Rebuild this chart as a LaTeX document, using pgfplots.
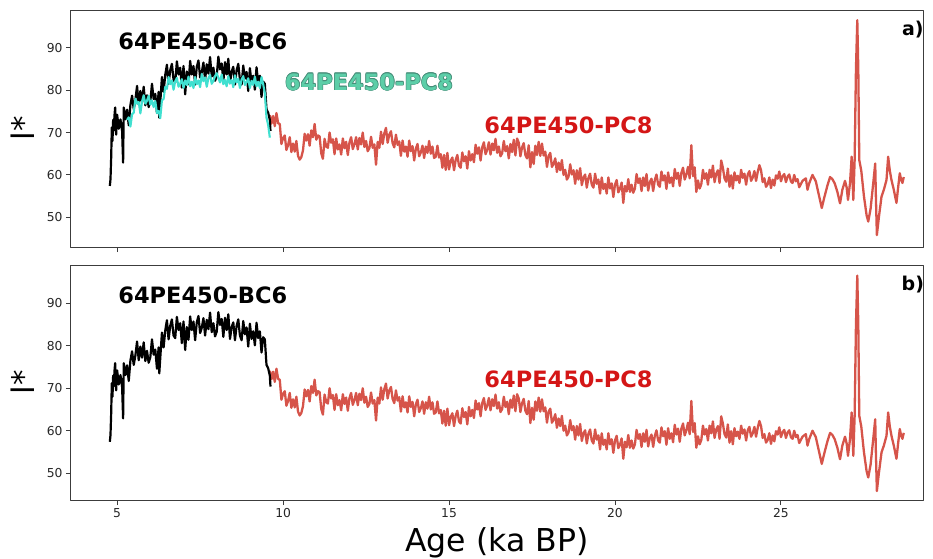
\documentclass[border=0pt]{standalone}
\usepackage{fontspec}
\setmainfont{DejaVu Sans}
\usepackage{pgfplots}
\usepackage{pgfplotstable}
\pgfplotsset{compat=1.18}

\definecolor{pcred}{RGB}{214,84,74}
\definecolor{pccyan}{RGB}{64,224,208}
\definecolor{labred}{RGB}{212,22,22}
\definecolor{labcyan}{RGB}{92,206,168}
\definecolor{labcyanedge}{RGB}{70,140,120}
\definecolor{framegray}{RGB}{60,60,60}

% 64PE450-PC8 (red)
\pgfplotstableread[row sep=\\]{
x y\\
9.60 74.1\\ 9.65 72.1\\ 9.70 73.9\\ 9.75 71.5\\ 9.80 74.6\\ 9.85 72.2\\ 9.90 72.0\\ 9.95 67.3\\ 10.00 68.7\\ 10.05 69.3\\
10.10 65.9\\ 10.15 67.0\\ 10.20 68.9\\ 10.25 65.4\\ 10.30 67.4\\ 10.35 65.5\\ 10.40 68.0\\ 10.45 64.5\\ 10.50 63.6\\ 10.55 64.2\\
10.60 65.8\\ 10.65 69.7\\ 10.70 68.1\\ 10.75 69.6\\ 10.80 66.9\\ 10.85 70.5\\ 10.90 68.9\\ 10.95 72.0\\ 11.00 68.3\\ 11.05 69.3\\
11.10 69.1\\ 11.15 65.1\\ 11.20 63.8\\ 11.25 68.5\\ 11.30 66.7\\ 11.35 66.4\\ 11.40 70.0\\ 11.45 67.6\\ 11.50 68.4\\ 11.55 64.9\\
11.60 68.6\\ 11.65 66.0\\ 11.70 67.2\\ 11.75 64.8\\ 11.80 68.6\\ 11.85 66.3\\ 11.90 67.8\\ 11.95 64.7\\ 12.00 67.7\\ 12.05 68.9\\
12.10 66.1\\ 12.15 67.2\\ 12.20 68.9\\ 12.25 66.0\\ 12.30 68.7\\ 12.35 67.2\\ 12.40 70.0\\ 12.45 66.6\\ 12.50 68.0\\ 12.55 65.6\\
12.60 66.3\\ 12.65 69.0\\ 12.70 66.4\\ 12.75 67.2\\ 12.80 62.4\\ 12.85 67.8\\ 12.90 66.4\\ 12.95 70.2\\ 13.00 67.3\\ 13.05 69.8\\
13.10 71.1\\ 13.15 67.6\\ 13.20 69.5\\ 13.25 70.3\\ 13.30 67.5\\ 13.35 66.5\\ 13.40 69.5\\ 13.45 67.1\\ 13.50 67.9\\ 13.55 64.5\\
13.60 68.1\\ 13.65 65.5\\ 13.70 66.7\\ 13.75 64.3\\ 13.80 68.1\\ 13.85 65.6\\ 13.90 66.8\\ 13.95 63.4\\ 14.00 66.2\\ 14.05 67.3\\
14.10 64.4\\ 14.15 65.3\\ 14.20 66.9\\ 14.25 64.0\\ 14.30 66.7\\ 14.35 65.2\\ 14.40 68.0\\ 14.45 65.0\\ 14.50 66.7\\ 14.55 64.0\\
14.60 64.3\\ 14.65 66.9\\ 14.70 64.1\\ 14.75 64.9\\ 14.80 61.7\\ 14.85 64.7\\ 14.90 61.2\\ 14.95 65.2\\ 15.00 61.3\\ 15.05 63.3\\
15.10 64.1\\ 15.15 61.1\\ 15.20 63.5\\ 15.25 64.7\\ 15.30 62.2\\ 15.35 61.7\\ 15.40 65.3\\ 15.45 63.2\\ 15.50 64.4\\ 15.55 61.5\\
15.60 65.6\\ 15.65 63.4\\ 15.70 64.9\\ 15.75 63.0\\ 15.80 67.1\\ 15.85 65.0\\ 15.90 66.5\\ 15.95 63.4\\ 16.00 66.5\\ 16.05 67.7\\
16.10 64.9\\ 16.15 65.9\\ 16.20 67.7\\ 16.25 64.8\\ 16.30 67.4\\ 16.35 65.8\\ 16.40 68.5\\ 16.45 65.2\\ 16.50 66.7\\ 16.55 64.4\\
16.60 65.1\\ 16.65 68.0\\ 16.70 65.6\\ 16.75 66.8\\ 16.80 63.9\\ 16.85 67.3\\ 16.90 65.4\\ 16.95 68.3\\ 17.00 64.6\\ 17.05 68.6\\
17.10 67.6\\ 17.15 64.4\\ 17.20 66.5\\ 17.25 67.5\\ 17.30 64.7\\ 17.35 63.9\\ 17.40 67.0\\ 17.45 61.8\\ 17.50 65.4\\ 17.55 62.6\\
17.60 66.9\\ 17.65 64.7\\ 17.70 67.8\\ 17.75 64.5\\ 17.80 67.4\\ 17.85 64.6\\ 17.90 65.5\\ 17.95 61.9\\ 18.00 64.5\\ 18.05 65.2\\
18.10 61.9\\ 18.15 62.6\\ 18.20 63.9\\ 18.25 60.7\\ 18.30 62.9\\ 18.35 61.1\\ 18.40 63.5\\ 18.45 60.0\\ 18.50 61.2\\ 18.55 58.9\\
18.60 59.6\\ 18.65 62.5\\ 18.70 60.1\\ 18.75 61.1\\ 18.80 57.9\\ 18.85 61.1\\ 18.90 58.9\\ 18.95 61.6\\ 19.00 57.6\\ 19.05 59.4\\
19.10 60.1\\ 19.15 57.0\\ 19.20 59.3\\ 19.25 60.3\\ 19.30 57.7\\ 19.35 57.0\\ 19.40 60.3\\ 19.45 57.9\\ 19.50 58.9\\ 19.55 55.6\\
19.60 59.4\\ 19.65 56.7\\ 19.70 57.9\\ 19.75 55.6\\ 19.80 59.4\\ 19.85 56.8\\ 19.90 58.0\\ 19.95 54.8\\ 20.00 57.7\\ 20.05 58.8\\
20.10 55.9\\ 20.15 56.7\\ 20.20 58.2\\ 20.25 53.4\\ 20.30 57.4\\ 20.35 56.1\\ 20.40 59.0\\ 20.45 56.0\\ 20.50 57.7\\ 20.55 55.8\\
20.60 56.8\\ 20.65 60.2\\ 20.70 58.1\\ 20.75 59.2\\ 20.80 56.2\\ 20.85 59.4\\ 20.90 57.4\\ 20.95 60.2\\ 21.00 56.3\\ 21.05 58.3\\
21.10 59.1\\ 21.15 56.2\\ 21.20 58.8\\ 21.25 60.1\\ 21.30 57.7\\ 21.35 57.2\\ 21.40 60.8\\ 21.45 58.7\\ 21.50 59.9\\ 21.55 56.7\\
21.60 60.6\\ 21.65 58.1\\ 21.70 59.4\\ 21.75 57.3\\ 21.80 61.4\\ 21.85 59.1\\ 21.90 60.5\\ 21.95 57.4\\ 22.00 60.5\\ 22.05 61.7\\
22.10 58.9\\ 22.15 60.1\\ 22.20 61.9\\ 22.25 59.2\\ 22.30 67.0\\ 22.35 59.7\\ 22.40 61.8\\ 22.45 56.0\\ 22.50 58.7\\ 22.55 56.8\\
22.60 57.8\\ 22.65 61.2\\ 22.70 59.1\\ 22.75 60.4\\ 22.80 57.7\\ 22.85 61.2\\ 22.90 59.4\\ 22.95 62.2\\ 23.00 58.3\\ 23.05 60.3\\
23.10 61.1\\ 23.15 58.1\\ 23.20 63.4\\ 23.25 61.7\\ 23.30 59.2\\ 23.35 58.4\\ 23.40 61.5\\ 23.45 57.2\\ 23.50 59.9\\ 23.55 56.8\\
23.60 60.6\\ 23.65 58.7\\ 23.70 59.8\\ 23.75 58.1\\ 23.80 61.2\\ 23.85 59.3\\ 23.90 60.3\\ 23.95 57.7\\ 24.00 60.1\\ 24.05 60.9\\
24.10 58.6\\ 24.15 59.4\\ 24.20 60.9\\ 24.25 58.6\\ 24.30 60.7\\ 24.35 62.3\\ 24.40 61.1\\ 24.45 58.3\\ 24.50 59.2\\ 24.55 57.2\\
24.60 57.8\\ 24.65 59.4\\ 24.70 56.9\\ 24.75 58.9\\ 24.80 57.5\\ 24.85 59.9\\ 24.90 59.1\\ 24.95 60.8\\ 25.00 58.5\\ 25.05 59.7\\
25.10 60.2\\ 25.15 58.3\\ 25.20 59.6\\ 25.25 60.1\\ 25.30 58.5\\ 25.35 58.1\\ 25.40 60.0\\ 25.45 58.5\\ 25.50 59.0\\ 25.55 57.1\\
25.65 58.6\\ 25.75 59.2\\ 25.80 56.5\\ 25.85 58.0\\ 25.95 60.0\\ 26.05 58.5\\ 26.15 55.0\\ 26.23 52.2\\ 26.30 54.5\\ 26.40 57.5\\
26.48 59.5\\ 26.55 59.0\\ 26.62 58.0\\ 26.70 56.0\\ 26.78 53.3\\ 26.85 56.5\\ 26.93 58.6\\ 26.98 57.0\\ 27.02 54.1\\ 27.08 58.0\\
27.13 64.3\\ 27.18 54.1\\ 27.22 63.5\\ 27.26 85.0\\ 27.30 96.5\\ 27.33 85.0\\ 27.36 63.5\\ 27.42 61.0\\ 27.50 55.0\\ 27.58 50.5\\
27.63 49.0\\ 27.70 52.0\\ 27.78 58.0\\ 27.84 62.7\\ 27.86 55.0\\ 27.89 45.8\\ 27.95 50.0\\ 28.03 54.9\\ 28.10 56.5\\ 28.18 58.8\\
28.23 64.3\\ 28.28 61.0\\ 28.33 58.8\\ 28.40 56.5\\ 28.48 53.4\\ 28.53 57.0\\ 28.58 60.4\\ 28.62 58.9\\ 28.66 58.1\\ 28.70 59.5\\
}\pcred

% 64PE450-BC6 (black)
\pgfplotstableread[row sep=\\]{
x y\\
4.78 57.4\\ 4.80 59.0\\ 4.82 64.0\\ 4.84 71.2\\ 4.86 68.0\\ 4.88 73.0\\ 4.90 70.5\\ 4.92 74.0\\ 4.94 75.9\\ 4.97 69.5\\
5.00 74.2\\ 5.05 70.9\\ 5.10 73.1\\ 5.15 70.3\\ 5.18 62.9\\ 5.20 75.9\\ 5.25 73.1\\ 5.30 75.4\\ 5.35 71.7\\ 5.40 76.5\\
5.45 78.7\\ 5.50 75.5\\ 5.55 77.7\\ 5.60 81.0\\ 5.65 76.6\\ 5.70 79.8\\ 5.75 77.2\\ 5.80 80.8\\ 5.85 76.4\\ 5.90 78.8\\
5.95 76.0\\ 6.00 77.3\\ 6.05 81.5\\ 6.10 77.9\\ 6.15 79.1\\ 6.20 74.6\\ 6.25 79.6\\ 6.27 73.5\\ 6.30 77.2\\ 6.35 83.1\\
6.40 79.6\\ 6.45 83.6\\ 6.50 86.0\\ 6.55 81.5\\ 6.60 84.7\\ 6.65 86.2\\ 6.70 82.4\\ 6.75 81.8\\ 6.80 86.8\\ 6.85 83.7\\
6.90 85.3\\ 6.95 80.6\\ 7.00 85.7\\ 7.05 79.0\\ 7.10 84.4\\ 7.15 81.4\\ 7.20 86.9\\ 7.25 83.7\\ 7.30 85.7\\ 7.35 81.3\\
7.40 85.5\\ 7.45 87.0\\ 7.50 83.0\\ 7.55 84.2\\ 7.60 86.5\\ 7.65 82.4\\ 7.70 86.1\\ 7.75 83.9\\ 7.80 87.8\\ 7.85 83.2\\
7.90 85.3\\ 7.95 82.2\\ 8.00 83.3\\ 8.05 87.9\\ 8.10 84.9\\ 8.15 86.3\\ 8.20 82.1\\ 8.25 86.6\\ 8.30 83.7\\ 8.35 87.4\\
8.40 81.6\\ 8.45 84.4\\ 8.50 85.5\\ 8.55 81.3\\ 8.60 84.7\\ 8.65 86.2\\ 8.70 82.4\\ 8.75 81.3\\ 8.80 85.8\\ 8.85 82.7\\
8.90 84.3\\ 8.95 79.8\\ 9.00 85.2\\ 9.05 81.6\\ 9.10 83.4\\ 9.15 80.1\\ 9.20 85.4\\ 9.25 81.8\\ 9.30 83.4\\ 9.35 78.4\\
9.40 82.0\\ 9.45 81.5\\ 9.50 75.5\\ 9.55 74.7\\ 9.60 73.0\\ 9.62 70.4\\
}\bcblack

% 64PE450-PC8 (turquoise)
\pgfplotstableread[row sep=\\]{
x y\\
5.30 73.0\\ 5.35 73.6\\ 5.40 71.4\\ 5.45 74.3\\ 5.50 74.7\\ 5.55 78.0\\ 5.60 76.8\\ 5.65 77.2\\ 5.70 74.5\\ 5.75 77.3\\
5.80 78.8\\ 5.85 76.8\\ 5.90 77.5\\ 5.95 78.7\\ 6.00 76.6\\ 6.05 77.6\\ 6.10 76.0\\ 6.15 77.4\\ 6.20 74.6\\ 6.25 75.1\\
6.30 73.4\\ 6.35 77.6\\ 6.40 77.9\\ 6.45 80.8\\ 6.50 80.3\\ 6.55 83.1\\ 6.60 81.4\\ 6.65 82.3\\ 6.70 80.1\\ 6.75 82.1\\
6.80 82.9\\ 6.85 80.8\\ 6.90 81.5\\ 6.95 82.6\\ 7.00 80.5\\ 7.05 82.3\\ 7.10 81.2\\ 7.15 83.2\\ 7.20 80.9\\ 7.25 82.0\\
7.30 80.5\\ 7.35 83.1\\ 7.40 81.4\\ 7.45 82.3\\ 7.50 80.7\\ 7.55 83.8\\ 7.60 82.1\\ 7.65 83.0\\ 7.70 80.8\\ 7.75 82.8\\
7.80 83.6\\ 7.85 81.5\\ 7.90 82.2\\ 7.95 83.3\\ 8.00 84.0\\ 8.05 82.9\\ 8.10 81.8\\ 8.15 83.7\\ 8.20 81.4\\ 8.25 82.4\\
8.30 80.9\\ 8.35 83.3\\ 8.40 81.6\\ 8.45 82.4\\ 8.50 80.7\\ 8.55 83.5\\ 8.60 81.8\\ 8.65 82.7\\ 8.70 80.5\\ 8.75 82.5\\
8.80 83.3\\ 8.85 81.2\\ 8.90 81.9\\ 8.95 82.8\\ 9.00 80.5\\ 9.05 82.2\\ 9.10 81.2\\ 9.15 83.2\\ 9.20 80.9\\ 9.25 82.0\\
9.30 80.5\\ 9.35 83.1\\ 9.40 81.4\\ 9.45 79.3\\ 9.50 73.5\\ 9.55 71.8\\ 9.60 68.8\\
}\pccyantab

\pgfplotsset{panel/.style={
  scale only axis, width=852pt,
  xmin=3.61, xmax=29.28,
  xtick={5,10,15,20,25}, ytick={50,60,70,80,90},
  tick pos=left, tick align=outside, major tick length=5pt,
  axis line style={framegray, line width=1pt},
  every tick/.style={framegray, line width=1pt},
  tick label style={font=\fontsize{12.3}{14}\selectfont, text=black!85},
  /pgf/number format/assume math mode=true,
  ylabel={l*},
  ylabel style={font=\fontsize{31}{36}\selectfont, at={(rel axis cs:0,0.5)},
                anchor=center, yshift=48pt},
  line join=round,
}}
\tikzset{lab/.style={font=\fontsize{22.5}{26}\bfseries, inner sep=0pt},
         edge/.style={lab, text=labcyanedge}}

\begin{document}
\begin{tikzpicture}
\path[use as bounding box] (-71pt,-58pt) rectangle (862pt,500pt);

\begin{axis}[panel, at={(0pt,253pt)}, anchor=south west, height=237pt,
  ymin=43.0, ymax=98.9, xticklabels={}]
\addplot[pcred, line width=2.3pt] table[x=x, y=y] {\pcred};
\addplot[black, line width=2.2pt] table[x=x, y=y] {\bcblack};
\addplot[pccyan, line width=2.1pt] table[x=x, y=y] {\pccyantab};
\node[lab] at (axis cs:7.58,91.6) {64PE450-BC6};
% turquoise label with a thin darker edge
\node[edge, xshift=0.6pt] at (axis cs:12.59,81.9) {64PE450-PC8};
\node[edge, xshift=-0.6pt] at (axis cs:12.59,81.9) {64PE450-PC8};
\node[edge, yshift=0.6pt] at (axis cs:12.59,81.9) {64PE450-PC8};
\node[edge, yshift=-0.6pt] at (axis cs:12.59,81.9) {64PE450-PC8};
\node[edge, xshift=0.45pt, yshift=0.45pt] at (axis cs:12.59,81.9) {64PE450-PC8};
\node[edge, xshift=-0.45pt, yshift=0.45pt] at (axis cs:12.59,81.9) {64PE450-PC8};
\node[edge, xshift=0.45pt, yshift=-0.45pt] at (axis cs:12.59,81.9) {64PE450-PC8};
\node[edge, xshift=-0.45pt, yshift=-0.45pt] at (axis cs:12.59,81.9) {64PE450-PC8};
\node[lab, text=labcyan] at (axis cs:12.59,81.9) {64PE450-PC8};
\node[lab, text=labred] at (axis cs:18.6,71.8) {64PE450-PC8};
\node[font=\fontsize{19}{22}\bfseries, inner sep=0pt] at (rel axis cs:0.988,0.916) {a)};
\end{axis}

\begin{axis}[panel, at={(0pt,0pt)}, anchor=south west, height=235pt,
  ymin=43.7, ymax=99.0,
  xlabel={Age (ka BP)},
  xlabel style={font=\fontsize{31.5}{36}\selectfont, at={(rel axis cs:0.5,0)},
                anchor=base, yshift=-51pt}]
\addplot[pcred, line width=2.3pt] table[x=x, y=y] {\pcred};
\addplot[black, line width=2.2pt] table[x=x, y=y] {\bcblack};
\node[lab] at (axis cs:7.58,91.8) {64PE450-BC6};
\node[lab, text=labred] at (axis cs:18.6,72.0) {64PE450-PC8};
\node[font=\fontsize{19}{22}\bfseries, inner sep=0pt] at (rel axis cs:0.988,0.915) {b)};
\end{axis}
\end{tikzpicture}
\end{document}
